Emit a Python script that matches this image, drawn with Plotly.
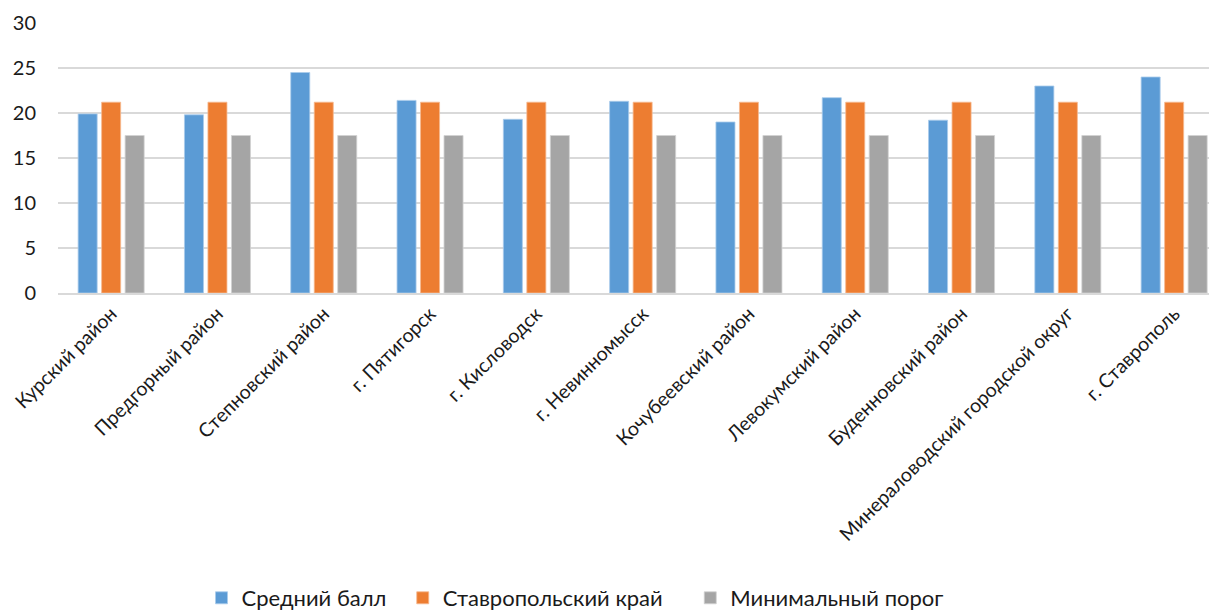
import plotly.graph_objects as go

categories = ["Курский район", "Предгорный район", "Степновский район", "г. Пятигорск",
              "г. Кисловодск", "г. Невинномысск", "Кочубеевский район", "Левокумский район",
              "Буденновский район", "Минераловодский городской округ", "г. Ставрополь"]
avg_score = [19.9, 19.8, 24.5, 21.4, 19.3, 21.3, 19.0, 21.7, 19.2, 23.0, 24.0]
region_score = [21.2] * 11
min_threshold = [17.5] * 11

series_names = ["Средний балл", "Ставропольский край", "Минимальный порог"]
legend_pad = [2, 4, 0]
colors = ["#5B9BD5", "#ED7D31", "#A5A5A5"]
edge_colors = ["#A9CBEB", "#F6B98F", "#D2D2D2"]

fig = go.Figure()
for name, pad, vals, c, ec in zip(series_names, legend_pad,
                                  [avg_score, region_score, min_threshold], colors, edge_colors):
    fig.add_trace(go.Bar(x=categories, y=vals, name=name + "\u00a0" * pad, marker_color=c,
                         marker_line=dict(width=0.8, color=ec)))

# page body has an 8px default margin, so the figure is drawn at (8, 8)
OFF = 8
W, H = 1217 - OFF, 610 - OFF
left, top = 58 - OFF, 23 - OFF
plot_bottom = 293 - OFF
bottom, right = H - plot_bottom, 0
plot_h = H - top - bottom
plot_w = W - left - right
cat_w = 106.3
x_max = -0.5 + plot_w / cat_w   # last category partly cut by the right edge, as in the reference
legend_cx, legend_cy = 575 - OFF, 598 - OFF
fig.update_layout(
    width=W, height=H,
    margin=dict(l=left, r=right, t=top, b=bottom, autoexpand=False),
    paper_bgcolor="white", plot_bgcolor="white",
    font=dict(family="Lato, Open Sans, sans-serif", size=19, color="#1a1a1a"),
    barmode="group", bargap=0.337, bargroupgap=0.19,
    legend=dict(orientation="h", x=(legend_cx - left) / plot_w, xanchor="center",
                y=-(legend_cy - plot_bottom) / plot_h, yanchor="middle",
                font=dict(size=22), itemwidth=30, traceorder="normal"),
    xaxis=dict(tickangle=-45, showgrid=False, showline=True, linecolor="#d9d9d9",
               linewidth=1.5, ticks="", tickfont=dict(size=19.5), automargin=False,
               range=[-0.5, x_max]),
    yaxis=dict(range=[0, 30], dtick=5, showgrid=True, gridcolor="#d9d9d9", gridwidth=1.5,
               zeroline=False, ticks="", tickfont=dict(size=20), automargin=False,
               ticklabelstandoff=21),
)
fig.write_html("out.html")
